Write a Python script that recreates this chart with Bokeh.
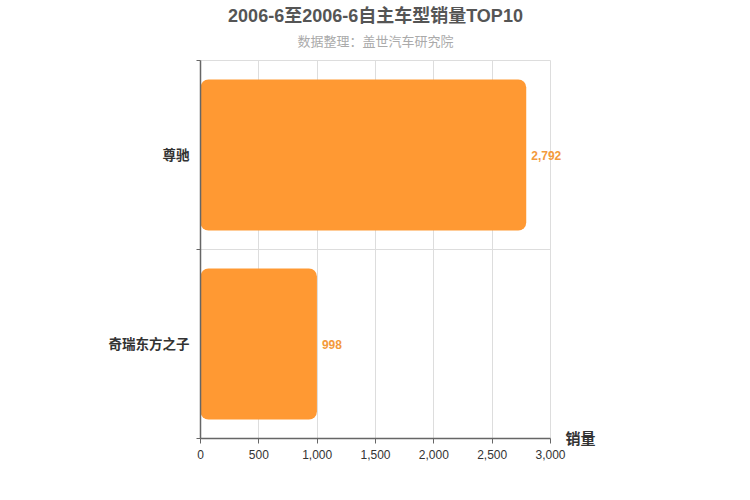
from bokeh.plotting import figure
from bokeh.models import (Range1d, FixedTicker, NumeralTickFormatter, Label,
                          ColumnDataSource)
from bokeh.embed import file_html
from bokeh.resources import INLINE
from bokeh.core.properties import value

# ---- data ----
title_text = "2006-6至2006-6自主车型销量TOP10"
subtitle_text = "数据整理：盖世汽车研究院"
categories = ["尊驰", "奇瑞东方之子"]          # top to bottom
sales = [2792, 998]
x_ticks = [0, 500, 1000, 1500, 2000, 2500, 3000]
x_axis_name = "销量"

# ---- layout (pixels) ----
W, H = 750, 500
LEFT = 200            # px of x = 0
PLOT_W = 350          # px from x=0 to x=max tick
TOP = 60              # px of top category boundary
PLOT_H = 378          # px from top boundary to axis

n = len(categories)
centers = [n - i - 0.5 for i in range(n)]
labels_txt = [f"{v:,}" for v in sales]
src = ColumnDataSource(dict(y=centers, v=sales, lab=labels_txt))

xmax = x_ticks[-1]
x_per_px = xmax / PLOT_W
y_per_px = n / PLOT_H
x_start = -LEFT * x_per_px
x_end = (W - LEFT) * x_per_px
y_top = n + TOP * y_per_px
y_bot = -(H - TOP - PLOT_H) * y_per_px

FONT = "Liberation Sans, Noto Sans CJK SC"

p = figure(width=W, height=H, output_backend="svg", toolbar_location=None,
           x_range=Range1d(x_start, x_end), y_range=Range1d(y_bot, y_top),
           min_border_left=0, min_border_right=0, min_border_top=0,
           min_border_bottom=0)
p.outline_line_color = None
p.background_fill_color = "white"

p.hbar(y="y", right="v", left=0, height=0.8, source=src,
       fill_color="#FF9933", line_color=None, border_radius=8)

p.text(x="v", y="y", text="lab", source=src, x_offset=5,
       text_baseline="middle", text_align="left", text_color="#F39A3C",
       text_font_size="12px", text_font_style="bold", text_font=value(FONT))

# x axis (fixed inside the frame at y = 0)
xa = p.xaxis[0]
xa.fixed_location = 0
xa.bounds = (0, xmax)
xa.ticker = FixedTicker(ticks=x_ticks)
xa.formatter = NumeralTickFormatter(format="0,0")
xa.axis_line_color = "#666666"
xa.axis_line_width = 1.5
xa.major_tick_line_color = "#666666"
xa.major_tick_out = 5
xa.major_tick_in = 0
xa.minor_tick_line_color = None
xa.major_label_text_font_size = "12px"
xa.major_label_text_color = "#333333"
xa.major_label_text_font = FONT
xa.major_label_standoff = 6

# y axis (fixed inside the frame at x = 0)
ya = p.yaxis[0]
ya.fixed_location = 0
ya.bounds = (0, n)
ya.ticker = FixedTicker(ticks=centers, minor_ticks=list(range(n + 1)))
ya.major_label_overrides = {c: t for c, t in zip(centers, categories)}
ya.axis_line_color = "#666666"
ya.axis_line_width = 1.5
ya.major_tick_line_color = None
ya.minor_tick_line_color = "#666666"
ya.minor_tick_out = 4
ya.minor_tick_in = 0
ya.major_label_text_font_size = "13.5px"
ya.major_label_text_font_style = "bold"
ya.major_label_text_color = "#333333"
ya.major_label_text_font = FONT
ya.major_label_standoff = 5

p.xgrid.ticker = FixedTicker(ticks=x_ticks)
p.xgrid.bounds = (0, xmax)
p.xgrid.cross_bounds = (0, n)
p.xgrid.grid_line_color = "#dddddd"
p.ygrid.ticker = FixedTicker(ticks=list(range(n + 1)))
p.ygrid.bounds = (0, n)
p.ygrid.cross_bounds = (0, xmax)
p.ygrid.grid_line_color = "#dddddd"

p.add_layout(Label(x=xmax, y=0, text=x_axis_name, x_offset=15,
                   text_baseline="middle", text_font_size="15px",
                   text_font_style="bold", text_color="#333333",
                   text_font=FONT))
mid = (x_ticks[0] + xmax) / 2
p.add_layout(Label(x=mid, y=H - 15, y_units="screen",
                   text=title_text, text_align="center", text_baseline="middle",
                   text_font_size="18px", text_font_style="bold",
                   text_color="#555555", text_font=FONT))
p.add_layout(Label(x=mid, y=H - 41, y_units="screen",
                   text=subtitle_text, text_align="center", text_baseline="middle",
                   text_font_size="13px", text_color="#aaaaaa", text_font=FONT))

open("out.html", "w").write(file_html(p, INLINE))
